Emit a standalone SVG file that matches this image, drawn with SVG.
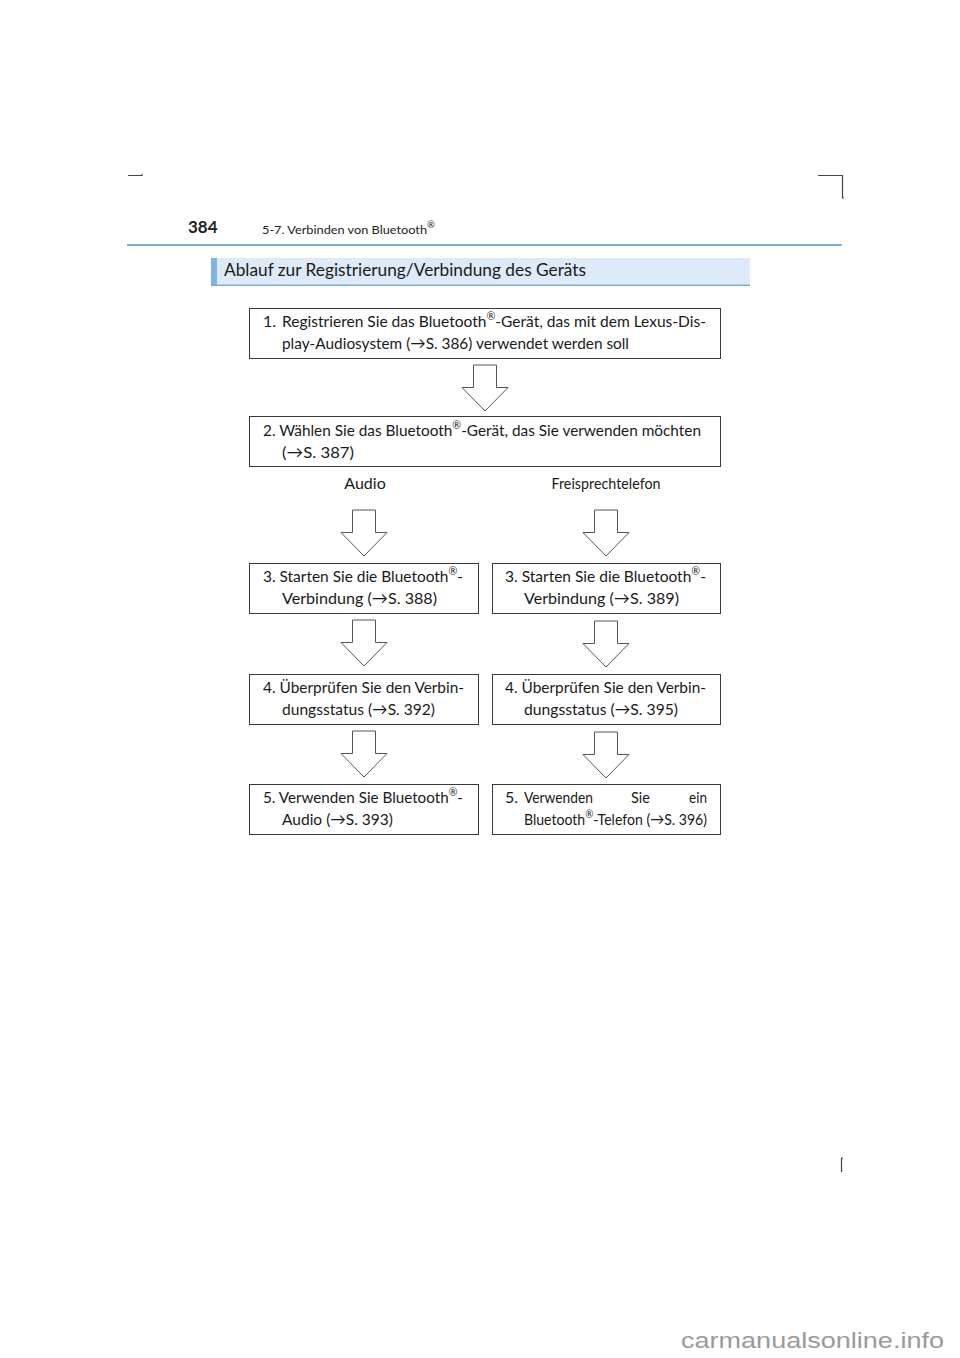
<svg xmlns="http://www.w3.org/2000/svg" width="960" height="1358" viewBox="0 0 960 1358">
<style>
.t{font-family:"Lato","Liberation Sans",sans-serif;font-size:16px;fill:#1a1a1a}
.r{font-size:11px}
.box{fill:#fff;stroke:#3a3a3a;stroke-width:1}
.arr{fill:#fff;stroke:#555;stroke-width:1}
.mark{stroke:#444;stroke-width:1.2;fill:none}
</style>
<rect width="960" height="1358" fill="#fff"/>
<g id="cropmarks">
<path class="mark" d="M128 175.5H142M142 174v2"/>
<path class="mark" d="M818 175.5H843M842.5 175V198M842 198h2"/>
<path class="mark" d="M841.5 1158V1172M841 1158h2"/>
</g>
<g id="header">
<text x="188" y="233" style="font-family:'Lato','Liberation Sans',sans-serif;font-weight:bold;font-size:17px;fill:#222">384</text>
<text x="262" y="234" style="font-family:'Lato','Liberation Sans',sans-serif;font-size:12px;fill:#222" textLength="173" lengthAdjust="spacingAndGlyphs">5-7. Verbinden von Bluetooth<tspan dy="-6" style="font-size:9px">®</tspan></text>
<rect x="127" y="244" width="715" height="2" fill="#7ab0de"/>
</g>
<g id="title">
<rect x="211" y="258" width="539" height="28" fill="#deeaf7"/>
<rect x="211" y="258" width="6" height="28" fill="#7fb3e0"/>
<rect x="211" y="284.5" width="539" height="1.5" fill="#7aaedc"/>
<text x="224" y="276" style="font-family:'Lato','Liberation Sans',sans-serif;font-size:17px;fill:#1a1a1a" textLength="362" lengthAdjust="spacingAndGlyphs">Ablauf zur Registrierung/Verbindung des Geräts</text>
</g>
<g id="connectors">
<polygon class="arr" points="473.5,365 496.5,365 496.5,387.5 508,387.5 485,411 462,387.5 473.5,387.5"/>
<polygon class="arr" points="352.5,510 375.5,510 375.5,532.5 387,532.5 364,556 341,532.5 352.5,532.5"/>
<polygon class="arr" points="594.5,510 617.5,510 617.5,532.5 629,532.5 606,556 583,532.5 594.5,532.5"/>
<polygon class="arr" points="352.5,620 375.5,620 375.5,642.5 387,642.5 364,666 341,642.5 352.5,642.5"/>
<polygon class="arr" points="594.5,621 617.5,621 617.5,643.5 629,643.5 606,667 583,643.5 594.5,643.5"/>
<polygon class="arr" points="352.5,731 375.5,731 375.5,753.5 387,753.5 364,777 341,753.5 352.5,753.5"/>
<polygon class="arr" points="594.5,732 617.5,732 617.5,754.5 629,754.5 606,778 583,754.5 594.5,754.5"/>
</g>
<g id="step1">
<rect class="box" x="249.5" y="308.5" width="471" height="50"/>
<text class="t" x="263" y="327">1.</text>
<text class="t" x="282" y="327" textLength="424" lengthAdjust="spacingAndGlyphs">Registrieren Sie das Bluetooth<tspan class="r" dy="-7">®</tspan><tspan dy="7">-Gerät, das mit dem Lexus-Dis-</tspan></text>
<text class="t" x="282" y="349" textLength="347" lengthAdjust="spacingAndGlyphs">play-Audiosystem (→S. 386) verwendet werden soll</text>
</g>
<g id="step2">
<rect class="box" x="249.5" y="416.5" width="471" height="50"/>
<text class="t" x="263" y="436" textLength="438" lengthAdjust="spacingAndGlyphs">2. Wählen Sie das Bluetooth<tspan class="r" dy="-7">®</tspan><tspan dy="7">-Gerät, das Sie verwenden möchten</tspan></text>
<text class="t" x="282" y="458" textLength="72" lengthAdjust="spacingAndGlyphs">(→S. 387)</text>
</g>
<g id="label-audio">
<text class="t" x="365" y="489" text-anchor="middle">Audio</text>
</g>
<g id="label-freisprech">
<text class="t" x="606" y="489" text-anchor="middle" textLength="109" lengthAdjust="spacingAndGlyphs">Freisprechtelefon</text>
</g>
<g id="step3-audio">
<rect class="box" x="249.5" y="563.5" width="229" height="50"/>
<text class="t" x="263" y="582" textLength="200" lengthAdjust="spacingAndGlyphs">3. Starten Sie die Bluetooth<tspan class="r" dy="-7">®</tspan><tspan dy="7">-</tspan></text>
<text class="t" x="282" y="604" textLength="155" lengthAdjust="spacingAndGlyphs">Verbindung (→S. 388)</text>
</g>
<g id="step3-phone">
<rect class="box" x="492.5" y="563.5" width="228" height="50"/>
<text class="t" x="505" y="582" textLength="201" lengthAdjust="spacingAndGlyphs">3. Starten Sie die Bluetooth<tspan class="r" dy="-7">®</tspan><tspan dy="7">-</tspan></text>
<text class="t" x="524" y="604" textLength="155" lengthAdjust="spacingAndGlyphs">Verbindung (→S. 389)</text>
</g>
<g id="step4-audio">
<rect class="box" x="249.5" y="674.5" width="229" height="50"/>
<text class="t" x="263" y="693" textLength="201" lengthAdjust="spacingAndGlyphs">4. Überprüfen Sie den Verbin-</text>
<text class="t" x="282" y="715" textLength="153" lengthAdjust="spacingAndGlyphs">dungsstatus (→S. 392)</text>
</g>
<g id="step4-phone">
<rect class="box" x="492.5" y="674.5" width="228" height="50"/>
<text class="t" x="505" y="693" textLength="201" lengthAdjust="spacingAndGlyphs">4. Überprüfen Sie den Verbin-</text>
<text class="t" x="524" y="715" textLength="154" lengthAdjust="spacingAndGlyphs">dungsstatus (→S. 395)</text>
</g>
<g id="step5-audio">
<rect class="box" x="249.5" y="784.5" width="229" height="50"/>
<text class="t" x="263" y="803" textLength="200" lengthAdjust="spacingAndGlyphs">5. Verwenden  Sie  Bluetooth<tspan class="r" dy="-7">®</tspan><tspan dy="7">-</tspan></text>
<text class="t" x="282" y="825" textLength="111" lengthAdjust="spacingAndGlyphs">Audio (→S. 393)</text>
</g>
<g id="step5-phone">
<rect class="box" x="492.5" y="784.5" width="228" height="50"/>
<text class="t" x="505" y="803">5.</text>
<text class="t" x="524" y="803" textLength="69" lengthAdjust="spacingAndGlyphs">Verwenden</text>
<text class="t" x="631" y="803" textLength="19" lengthAdjust="spacingAndGlyphs">Sie</text>
<text class="t" x="689" y="803" textLength="18" lengthAdjust="spacingAndGlyphs">ein</text>
<text class="t" x="524" y="825" textLength="183" lengthAdjust="spacingAndGlyphs">Bluetooth<tspan class="r" dy="-7">®</tspan><tspan dy="7">-Telefon (→S. 396)</tspan></text>
</g>
<g id="watermark">
<text x="681" y="1348" style="font-family:'Liberation Sans',Arial,sans-serif;font-size:22px;fill:#9a9a9a" textLength="263" lengthAdjust="spacingAndGlyphs">carmanualsonline.info</text>
</g>
</svg>
